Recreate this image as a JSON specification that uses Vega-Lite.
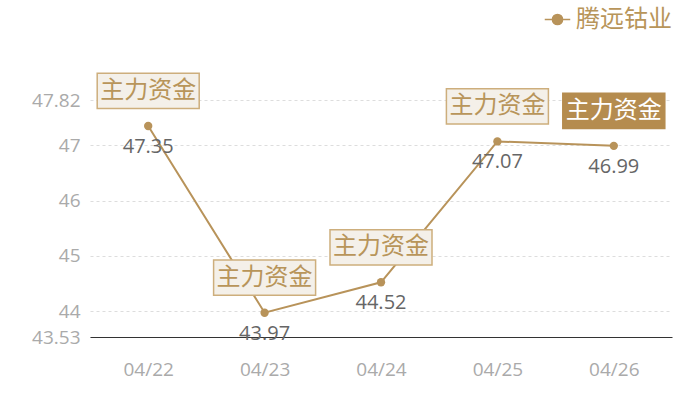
{
  "$schema": "https://vega.github.io/schema/vega-lite/v6.json",
  "autosize": "none",
  "width": 582,
  "height": 237,
  "padding": {"left": 90, "top": 100, "right": 28, "bottom": 63},
  "background": "white",
  "data": {
    "values": [
      {"date": "04/22", "value": 47.35, "tag": "主力资金", "series": "腾远钴业"},
      {"date": "04/23", "value": 43.97, "tag": "主力资金", "series": "腾远钴业"},
      {"date": "04/24", "value": 44.52, "tag": "主力资金", "series": "腾远钴业"},
      {"date": "04/25", "value": 47.07, "tag": "主力资金", "series": "腾远钴业"},
      {"date": "04/26", "value": 46.99, "tag": "主力资金", "series": "腾远钴业"}
    ]
  },
  "encoding": {
    "x": {
      "field": "date",
      "type": "ordinal",
      "scale": {"type": "point", "padding": 0.5},
      "axis": {
        "title": null,
        "labelAngle": 0,
        "labelColor": "#aaaaaa",
        "labelFontSize": 19,
        "labelFont": "Open Sans",
        "labelPadding": 23,
        "ticks": false,
        "domainColor": "#333333",
        "domainWidth": 1,
        "grid": false
      }
    },
    "y": {
      "field": "value",
      "type": "quantitative",
      "scale": {"domain": [43.53, 47.82], "nice": false, "zero": false},
      "axis": {
        "title": null,
        "values": [43.53, 44, 45, 46, 47, 47.82],
        "labelExpr": "'' + datum.value",
        "labelColor": "#aaaaaa",
        "labelFontSize": 19,
        "labelFont": "Open Sans",
        "labelPadding": 10,
        "ticks": false,
        "domain": false,
        "gridColor": "#dddddd",
        "gridDash": [3, 3]
      }
    }
  },
  "layer": [
    {
      "mark": {"type": "line", "strokeWidth": 2},
      "encoding": {
        "color": {
          "field": "series",
          "type": "nominal",
          "scale": {"range": ["#b8935a"]},
          "legend": {
            "title": null,
            "orient": "none",
            "legendX": 454,
            "legendY": -94,
            "padding": 0,
            "symbolType": "M-1,0H1M0.4,0A0.4,0.4,0,1,1,-0.4,0A0.4,0.4,0,1,1,0.4,0Z",
            "symbolSize": 650,
            "symbolFillColor": "#b8935a",
            "symbolStrokeColor": "#b8935a",
            "symbolStrokeWidth": 1.5,
            "labelFontSize": 24,
            "labelColor": "#b8955a",
            "labelFont": "Noto Sans CJK SC",
            "labelOffset": 5,
            "labelLimit": 200
          }
        }
      }
    },
    {
      "mark": {"type": "point", "filled": true, "size": 70, "opacity": 1, "color": "#b8935a"}
    },
    {
      "mark": {
        "type": "point",
        "shape": "M-1,-0.345H1V0.345H-1Z",
        "size": 10404,
        "filled": true,
        "opacity": 1,
        "strokeWidth": 1.5,
        "yOffset": -35
      },
      "encoding": {
        "fill": {
          "condition": {"test": "datum.date === '04/26'", "value": "#b58c4f"},
          "value": "#f4f0e9"
        },
        "stroke": {
          "condition": {"test": "datum.date === '04/26'", "value": "#b58c4f"},
          "value": "#cdae7c"
        }
      }
    },
    {
      "mark": {
        "type": "text",
        "dy": -35,
        "baseline": "middle",
        "align": "center",
        "fontSize": 24,
        "font": "Noto Sans CJK SC"
      },
      "encoding": {
        "text": {"field": "tag"},
        "color": {
          "condition": {"test": "datum.date === '04/26'", "value": "#ffffff"},
          "value": "#b8955a"
        }
      }
    },
    {
      "mark": {
        "type": "text",
        "dy": 21,
        "baseline": "middle",
        "align": "center",
        "fontSize": 20,
        "font": "Open Sans",
        "color": "#666666"
      },
      "encoding": {
        "text": {"field": "value", "type": "quantitative", "format": ".2f"}
      }
    }
  ],
  "config": {
    "view": {"stroke": null}
  }
}
